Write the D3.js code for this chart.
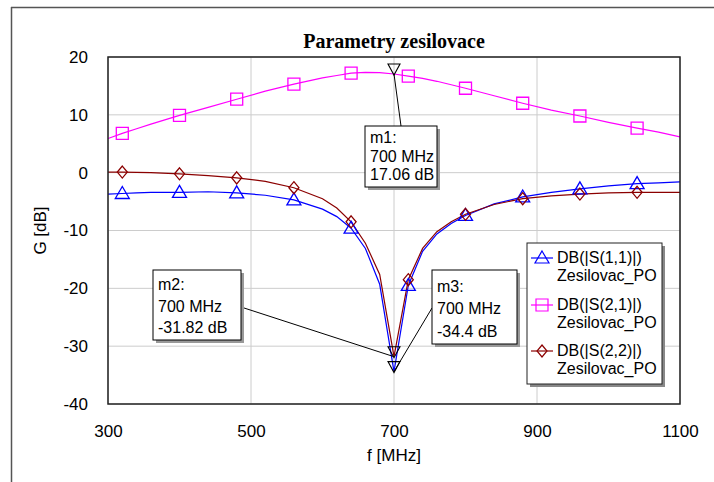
<!DOCTYPE html>
<html><head><meta charset="utf-8">
<script src="https://cdn.jsdelivr.net/npm/d3@7"></script>
<style>
body{margin:0;background:#fff;}
svg{display:block;font-family:Arial,"Liberation Sans",sans-serif;}
</style></head>
<body><svg id="c" width="714" height="482"></svg>
<script>
const title = "Parametry zesilovace";
const xLabel = "f [MHz]";
const yLabel = "G [dB]";
const xTicks = [300, 500, 700, 900, 1100];
const yTicks = [-40, -30, -20, -10, 0, 10, 20];
const freq = [300,320,340,360,400,440,480,520,560,600,620,640,660,680,700,720,740,760,780,800,840,880,920,960,1000,1040,1070,1100];
const s11 = [-3.7,-3.6,-3.5,-3.4,-3.4,-3.3,-3.5,-3.9,-4.7,-6.3,-7.6,-9.6,-13.1,-19.3,-34.4,-19.5,-13.6,-10.6,-8.8,-7.4,-5.4,-4.2,-3.4,-2.8,-2.3,-1.9,-1.75,-1.6];
const s21 = [5.9,6.8,7.6,8.4,9.9,11.3,12.7,14.1,15.3,16.4,16.8,17.2,17.35,17.3,17.06,16.7,16.3,15.8,15.2,14.6,13.3,12.0,10.8,9.8,8.7,7.7,7.0,6.2];
const s22 = [0.1,0.1,0.05,0.0,-0.2,-0.5,-0.9,-1.5,-2.6,-4.5,-6.1,-8.5,-12.2,-17.6,-31.82,-18.5,-13.1,-10.2,-8.5,-7.2,-5.5,-4.5,-4.0,-3.7,-3.5,-3.4,-3.4,-3.4];
const markerFreq = [320,400,480,560,640,720,800,880,960,1040];
const seriesNames = ["DB(|S(1,1)|)", "DB(|S(2,1)|)", "DB(|S(2,2)|)"];
const seriesSub = "Zesilovac_PO";
const seriesColors = ["#0000ff", "#ff00ff", "#8b0000"];
const seriesShapes = ["triangle", "square", "diamond"];
const markerNames = ["m1:", "m2:", "m3:"];
const markerF = [700, 700, 700];
const markerVal = [17.06, -31.82, -34.4];
const markerText2 = ["700 MHz", "700 MHz", "700 MHz"];
const markerText3 = ["17.06 dB", "-31.82 dB", "-34.4 dB"];

const series = [s11, s21, s22];
const svg = d3.select("#c");
const L = 108, R = 680, T = 57, B = 404;
const x = d3.scaleLinear().domain([300, 1100]).range([L, R]);
const y = d3.scaleLinear().domain([-40, 20]).range([B, T]);

// outer frame
svg.append("line").attr("x1",11).attr("y1",7.5).attr("x2",714).attr("y2",7.5).attr("stroke","#555").attr("stroke-width",1.5);
svg.append("line").attr("x1",11.5).attr("y1",7).attr("x2",11.5).attr("y2",482).attr("stroke","#555").attr("stroke-width",1.5);

// grid
const g = svg.append("g");
g.selectAll(".gx").data(xTicks).enter().append("line")
  .attr("x1",d=>x(d)).attr("x2",d=>x(d)).attr("y1",T).attr("y2",B)
  .attr("stroke","#cccccc").attr("stroke-width",1);
g.selectAll(".gy").data(yTicks).enter().append("line")
  .attr("x1",L).attr("x2",R).attr("y1",d=>y(d)).attr("y2",d=>y(d))
  .attr("stroke","#cccccc").attr("stroke-width",1);

// axes (labels only)
const fmt = d => String(d);
const xa = svg.append("g").attr("transform",`translate(0,${B})`)
  .call(d3.axisBottom(x).tickValues(xTicks).tickSize(0).tickPadding(21).tickFormat(fmt));
const ya = svg.append("g").attr("transform",`translate(${L},0)`)
  .call(d3.axisLeft(y).tickValues(yTicks).tickSize(0).tickPadding(20).tickFormat(fmt));
[xa, ya].forEach(a=>{a.select(".domain").remove(); a.selectAll("text").attr("font-size",17).attr("fill","#000").attr("font-family","Arial, 'Liberation Sans', sans-serif");});

// clip
svg.append("clipPath").attr("id","clip").append("rect").attr("x",L).attr("y",T).attr("width",R-L).attr("height",B-T);

const line = d3.line().x(d=>x(d[0])).y(d=>y(d[1]));
const plot = svg.append("g").attr("clip-path","url(#clip)");
series.forEach((s,i)=>{
  plot.append("path").datum(freq.map((f,k)=>[f,s[k]]))
    .attr("d",line).attr("fill","none").attr("stroke",seriesColors[i]).attr("stroke-width",1.2);
});

function shapePath(type, cx, cy){
  if(type==="triangle"){ return `M${cx},${cy-7}L${cx+7},${cy+5}L${cx-7},${cy+5}Z`; }
  if(type==="square"){ return `M${cx-6},${cy-6}h12v12h-12Z`; }
  if(type==="diamond"){ return `M${cx},${cy-6}L${cx+5},${cy}L${cx},${cy+6}L${cx-5},${cy}Z`; }
  if(type==="down"){ return `M${cx-6},${cy-5}L${cx+6},${cy-5}L${cx},${cy+6}Z`; }
}
series.forEach((s,i)=>{
  markerFreq.forEach(f=>{
    const k = freq.indexOf(f);
    svg.append("path").attr("d",shapePath(seriesShapes[i], x(f), y(s[k])))
      .attr("fill","none").attr("stroke",seriesColors[i]).attr("stroke-width",1.3);
  });
});

// plot border
svg.append("rect").attr("x",L).attr("y",T).attr("width",R-L).attr("height",B-T)
  .attr("fill","none").attr("stroke","#222").attr("stroke-width",1.5);

// title and axis labels
svg.append("text").attr("x",(L+R)/2).attr("y",48).attr("text-anchor","middle")
  .attr("font-family","'Liberation Serif','Times New Roman',serif").attr("font-weight","bold").attr("font-size",20).text(title);
svg.append("text").attr("x",(L+R)/2).attr("y",461).attr("text-anchor","middle").attr("font-size",17).text(xLabel);
svg.append("text").attr("transform",`translate(46,${(T+B)/2}) rotate(-90)`).attr("text-anchor","middle").attr("font-size",17).text(yLabel);

// marker boxes
const boxes = [
  {x0:365, y0:126, w:72, h:61, lx:401, ly:126},
  {x0:153, y0:270, w:88, h:70, lx:241, ly:307},
  {x0:432, y0:270, w:85, h:74, lx:432, ly:308}
];
boxes.forEach((b,i)=>{
  const mx = x(markerF[i]), my = y(markerVal[i]);
  svg.append("line").attr("x1",b.lx).attr("y1",b.ly).attr("x2",mx).attr("y2",my).attr("stroke","#000").attr("stroke-width",1);
  svg.append("rect").attr("x",b.x0+3).attr("y",b.y0+3).attr("width",b.w).attr("height",b.h).attr("fill","#999");
  svg.append("rect").attr("x",b.x0).attr("y",b.y0).attr("width",b.w).attr("height",b.h).attr("fill","#fff").attr("stroke","#000").attr("stroke-width",1);
  const lines = [markerNames[i], markerText2[i], markerText3[i]];
  const step = (b.h-6)/3;
  lines.forEach((t,j)=>{
    svg.append("text").attr("x",b.x0+5).attr("y",b.y0+step*(j+1)-1).attr("font-size",16).text(t);
  });
  svg.append("path").attr("d",shapePath("down", mx, my-5)).attr("fill","none").attr("stroke","#000").attr("stroke-width",1.1);
});

// legend
const lg = {x0:527, y0:243, w:135, h:141};
svg.append("rect").attr("x",lg.x0+3).attr("y",lg.y0+3).attr("width",lg.w).attr("height",lg.h).attr("fill","#888");
svg.append("rect").attr("x",lg.x0).attr("y",lg.y0).attr("width",lg.w).attr("height",lg.h).attr("fill","#fff").attr("stroke","#222").attr("stroke-width",1);
const rowY = [257, 304, 350];
seriesNames.forEach((n,i)=>{
  const cy = rowY[i];
  svg.append("line").attr("x1",531).attr("x2",553).attr("y1",cy+1).attr("y2",cy+1).attr("stroke",seriesColors[i]).attr("stroke-width",1.2);
  svg.append("path").attr("d",shapePath(seriesShapes[i],542,cy+1)).attr("fill","none").attr("stroke",seriesColors[i]).attr("stroke-width",1.2);
  svg.append("text").attr("x",557).attr("y",cy+6).attr("font-size",16).text(n);
  svg.append("text").attr("x",557).attr("y",cy+24).attr("font-size",16).text(seriesSub);
});
</script></body></html>
